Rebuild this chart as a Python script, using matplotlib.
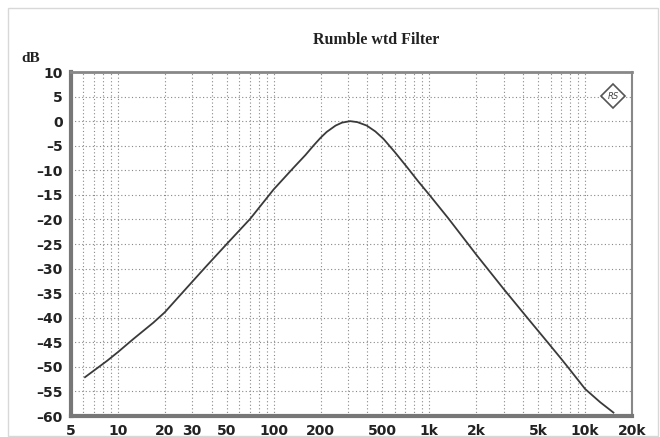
import numpy as np
import matplotlib
matplotlib.use('Agg')
from matplotlib import pyplot as plt
from matplotlib.patches import Rectangle
from matplotlib.ticker import FixedLocator, NullFormatter

# frequency response
freq = [6.15, 8.5, 10, 12.6, 16.9, 20, 27, 37, 50, 70.6, 100, 134, 160, 180, 200, 219,
        250, 275, 310, 345, 396, 450, 507, 600, 716, 850, 1000, 1325, 2016, 2990,
        4225, 5675, 6914, 7815, 10000, 12500, 15200]
level = [-52.1, -48.8, -47.0, -44.3, -41.0, -38.9, -34.3, -29.5, -25.0, -19.9, -13.9,
         -9.5, -6.9, -5.0, -3.4, -2.2, -0.9, -0.3, 0.0, -0.2, -0.9, -2.1, -3.6, -6.3,
         -9.3, -12.3, -15.0, -19.8, -27.3, -34.1, -39.9, -44.8, -48.1, -50.2, -54.5,
         -57.2, -59.3]

xticks = [5, 10, 20, 30, 50, 100, 200, 500, 1000, 2000, 5000, 10000, 20000]
xlabels = ['5', '10', '20', '30', '50', '100', '200', '500', '1k', '2k', '5k', '10k', '20k']
yticks = list(range(-60, 11, 5))

W, H = 660, 437
fig = plt.figure(figsize=(W / 100, H / 100), dpi=100)
fig.patches.append(Rectangle((8 / W, 1 / H), 650 / W, (H - 9) / H, transform=fig.transFigure,
                             fill=False, edgecolor='#d8d8d8', lw=1))

ax = fig.add_axes([71 / W, (H - 416) / H, (632 - 71) / W, (416 - 72) / H])
ax.set_xscale('log')
ax.set_xlim(5, 20000)
ax.set_ylim(-60, 10)

# dotted grid on every 1..9 multiple and every 5 dB
gridx = [m * 10 ** e for e in range(0, 5) for m in range(1, 10) if 5 < m * 10 ** e < 20000]
for gx in gridx:
    ax.axvline(gx, color='#888888', ls=(0, (1, 2.2)), lw=0.8, zorder=1)
for gy in yticks[1:-1]:
    ax.axhline(gy, color='#888888', ls=(0, (1, 2.2)), lw=0.8, zorder=1)

ax.plot(freq, level, color='#3a3a3a', lw=1.3, zorder=3)

ax.xaxis.set_major_locator(FixedLocator(xticks))
ax.xaxis.set_minor_locator(FixedLocator([]))
ax.xaxis.set_minor_formatter(NullFormatter())
ax.set_xticks(xticks)
ax.set_xticklabels(xlabels)
ax.set_yticks(yticks)
ax.set_yticklabels([str(v).replace('-', '\u2013') for v in yticks])
ax.tick_params(length=0, pad=6, labelsize=10, labelcolor='#222222')
for lab in ax.get_xticklabels() + ax.get_yticklabels():
    lab.set_fontweight('bold')
    lab.set_family('DejaVu Sans')

for side in ['left', 'bottom']:
    ax.spines[side].set_linewidth(3)
    ax.spines[side].set_color('#777777')
ax.spines['top'].set_linewidth(2)
ax.spines['top'].set_color('#888888')
ax.spines['right'].set_linewidth(1.5)
ax.spines['right'].set_color('#888888')

# analyzer logo in the corner
ax.plot([0.966], [0.93], marker='D', ms=12, mfc='white', mec='#555555', mew=1.2,
        transform=ax.transAxes, zorder=4)
ax.text(0.966, 0.93, 'RS', transform=ax.transAxes, fontsize=6, style='italic',
        ha='center', va='center', color='#444444', zorder=5)

fig.text(376 / W, 1 - 40 / H, 'Rumble wtd Filter', ha='center', va='center',
         family='Liberation Serif', fontweight='bold', fontsize=11.5, color='#222222')
fig.text(31 / W, 1 - 59 / H, 'dB', ha='center', va='center',
         family='Liberation Serif', fontweight='bold', fontsize=11, color='#222222')

fig.savefig('out.png', dpi=100)
